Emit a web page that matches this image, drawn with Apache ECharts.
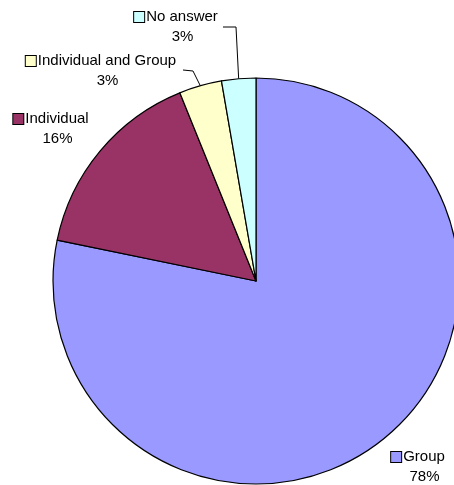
<!DOCTYPE html>
<html>
<head>
    <meta charset="utf-8">
    <script src="https://cdn.jsdelivr.net/npm/echarts@6/dist/echarts.min.js"></script>
    <style>
        body { margin: 0; padding: 0; background: #fff; }
        #chart { width: 454px; height: 485px; }
    </style>
</head>
<body>
    <div id="chart"></div>
    <script>
        var categories = ['Group', 'Individual', 'Individual and Group', 'No answer'];
        var counts = [115, 23, 5, 4];
        var colors = ['#9999FF', '#993366', '#FFFFCC', '#CCFFFF'];

        // label block centres and leader line elbows (page pixels)
        var labelPos = [[418, 467], [51, 129], [101, 71], [176, 27]];
        var elbows = [null, null, [[193, 71], [183, 70]], [[236, 27], [223, 27]]];

        var chart = echarts.init(document.getElementById('chart'));

        var rich = {
            pct: { fontSize: 15, lineHeight: 20, padding: [0, 0, 0, 13], color: '#000' },
            name: { fontSize: 15, lineHeight: 20, color: '#000', padding: [0, 0, 0, 2] }
        };
        colors.forEach(function (c, i) {
            rich['box' + i] = {
                width: 10, height: 10, backgroundColor: c,
                borderColor: '#000', borderWidth: 1
            };
        });

        chart.setOption({
            animation: false,
            backgroundColor: '#fff',
            textStyle: { fontFamily: 'Liberation Sans, Arial, sans-serif' },
            series: [{
                type: 'pie',
                center: [256, 281],
                radius: 203,
                startAngle: 90,
                clockwise: true,
                percentPrecision: 0,
                itemStyle: { borderColor: '#000', borderWidth: 1.2 },
                label: {
                    show: true,
                    overflow: 'none',
                    width: 300,
                    formatter: function (p) {
                        return '{box' + p.dataIndex + '|}{name|' + p.name + '}\n{pct|' + p.percent + '%}';
                    },
                    rich: rich,
                    align: 'center'
                },
                labelLine: { show: true, lineStyle: { color: '#000', width: 1 } },
                labelLayout: function (params) {
                    var i = params.dataIndex;
                    var out = {
                        x: labelPos[i][0],
                        y: labelPos[i][1],
                        align: 'center',
                        verticalAlign: 'middle'
                    };
                    if (elbows[i] && params.labelLinePoints) {
                        var p0 = params.labelLinePoints[0];
                        out.labelLinePoints = [p0, elbows[i][0], elbows[i][1]];
                    }
                    return out;
                },
                data: categories.map(function (n, i) {
                    return {
                        name: n,
                        value: counts[i],
                        itemStyle: { color: colors[i] },
                        labelLine: { show: !!elbows[i] }
                    };
                })
            }]
        });
    </script>
</body>
</html>
